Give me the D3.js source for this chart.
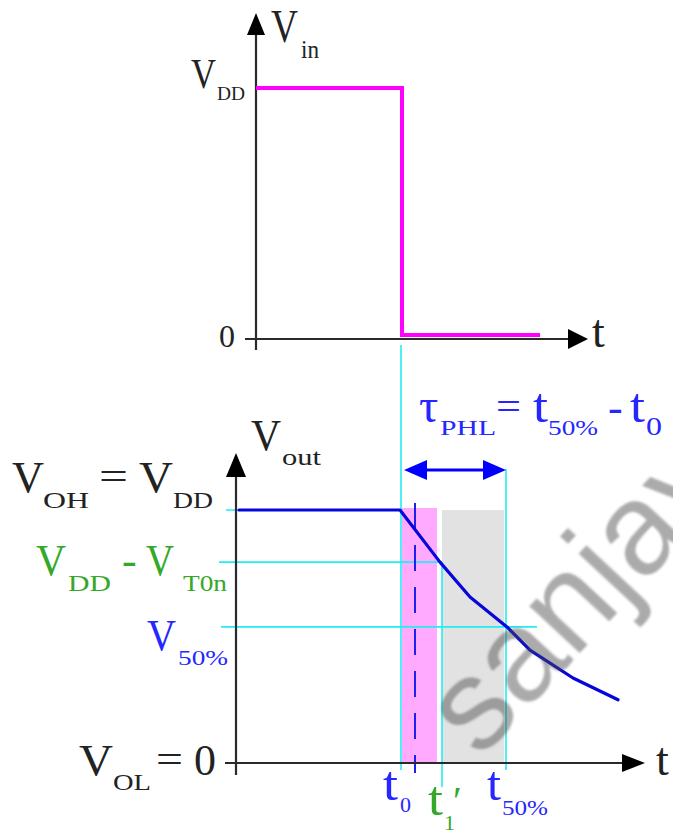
<!DOCTYPE html>
<html>
<head>
<meta charset="utf-8">
<script src="https://cdn.jsdelivr.net/npm/d3@7"></script>
<style>
  html, body { margin: 0; padding: 0; background: #fff; }
  svg { display: block; }
</style>
</head>
<body>
<svg id="chart" width="673" height="832"></svg>
<script>
// Input step Vin(t)
const vinTimes  = [0, 14.6, 14.6, 28.4];
const vinValues = [5, 5, 0, 0];

// Output response Vout(t)
const voutTimes  = [0.3, 16.4, 20.4, 23.4, 27.1, 29.4, 33.7, 38.2];
const voutValues = [5.0, 5.0, 3.97, 3.28, 2.69, 2.23, 1.68, 1.25];

// Reference levels on the Vout axis: VOH = VDD, VDD - VT0n, V50%
const levelValues = [5.0, 3.97, 2.69];

// Time markers: t0, t1', t50%
const markerTimes = [16.5, 20.6, 27.0];

// Shaded intervals and the dashed instant
const pinkInterval = [16.6, 20.1];
const grayInterval = [20.6, 26.8];
const dashedTime = 17.9;

const svg = d3.select("#chart");
const SERIF = "'Liberation Serif', 'Times New Roman', serif";

// Scales
const xTop = d3.scaleLinear().domain([0, 33.2]).range([256, 588]);
const yTop = d3.scaleLinear().domain([0, 5]).range([335, 88]);
const xBot = d3.scaleLinear().domain([0, 40.9]).range([236, 645]);
const yBot = d3.scaleLinear().domain([0, 5]).range([763, 510]);

const line = (xs, ys) => d3.line().x(d => xs(d[0])).y(d => ys(d[1]));

// Watermark blur
const defs = svg.append("defs");
defs.append("filter").attr("id", "soft")
  .append("feGaussianBlur").attr("stdDeviation", 1.2);

// ---------- helpers ----------
function arrowHead(g, tipX, tipY, dir, len, half, color) {
  let pts;
  if (dir === "up")    pts = [[tipX, tipY], [tipX - half, tipY + len], [tipX + half, tipY + len]];
  if (dir === "right") pts = [[tipX, tipY], [tipX - len, tipY - half], [tipX - len, tipY + half]];
  if (dir === "left")  pts = [[tipX, tipY], [tipX + len, tipY - half], [tipX + len, tipY + half]];
  g.append("path").attr("d", "M" + pts.join("L") + "Z").attr("fill", color);
}

// one run of text: [string, x, baseline, font size, colour, width]
function piece(p) {
  const [str, x, y, size, color, width] = p;
  const t = svg.append("text")
    .attr("x", x).attr("y", y)
    .attr("font-size", size)
    .attr("fill", color)
    .style("font-family", SERIF)
    .text(str);
  if (width) t.attr("textLength", width).attr("lengthAdjust", "spacingAndGlyphs");
}

// ---------- top chart: Vin ----------
const gTop = svg.append("g");
const axisColor = "#2a2a2a";

gTop.append("line")
  .attr("x1", xTop(0)).attr("x2", xTop(0))
  .attr("y1", yTop(0) + 15).attr("y2", 30)
  .attr("stroke", axisColor).attr("stroke-width", 2.2);
arrowHead(gTop, xTop(0), 13, "up", 22, 9, "#000");
gTop.append("line")
  .attr("x1", xTop(0) - 11).attr("x2", 572)
  .attr("y1", yTop(0) + 4).attr("y2", yTop(0) + 4)
  .attr("stroke", axisColor).attr("stroke-width", 2.2);
arrowHead(gTop, 588, yTop(0) + 4, "right", 20, 10, "#000");

gTop.append("path")
  .datum(vinTimes.map((t, i) => [t, vinValues[i]]))
  .attr("d", line(xTop, yTop))
  .attr("fill", "none")
  .attr("stroke", "#ff00ff")
  .attr("stroke-width", 4)
  .attr("stroke-linejoin", "miter");

// ---------- bottom chart: Vout ----------
const gBot = svg.append("g");

gBot.append("rect")
  .attr("x", xBot(pinkInterval[0])).attr("y", yBot(5) - 2)
  .attr("width", xBot(pinkInterval[1]) - xBot(pinkInterval[0]))
  .attr("height", yBot(0) - yBot(5) + 2)
  .attr("fill", "#ffaaff");
gBot.append("rect")
  .attr("x", xBot(grayInterval[0])).attr("y", yBot(5))
  .attr("width", xBot(grayInterval[1]) - xBot(grayInterval[0]))
  .attr("height", yBot(0) - yBot(5))
  .attr("fill", "#e2e2e2");

// watermark
svg.append("text")
  .attr("transform", "translate(480,760) rotate(-47)")
  .attr("font-family", "'Liberation Sans', Arial, sans-serif")
  .attr("font-size", 130)
  .attr("fill", "#444")
  .attr("fill-opacity", 0.45)
  .attr("filter", "url(#soft)")
  .text("sanjay");

const cyan = "#22ecf4";

const levelStarts = [226, 219, 221];
const levelEnds = [xBot(markerTimes[0]), xBot(markerTimes[1]), 537];
levelValues.forEach((v, i) => {
  gBot.append("line")
    .attr("x1", levelStarts[i]).attr("x2", levelEnds[i])
    .attr("y1", yBot(v)).attr("y2", yBot(v))
    .attr("stroke", cyan).attr("stroke-width", 1.6);
});

const markerTops = [345, yBot(levelValues[1]), 469];
const markerBottoms = [770, 787, 770];
markerTimes.forEach((t, i) => {
  gBot.append("line")
    .attr("x1", xBot(t)).attr("x2", xBot(t))
    .attr("y1", markerTops[i]).attr("y2", markerBottoms[i])
    .attr("stroke", cyan).attr("stroke-width", 1.6);
});

gBot.append("line")
  .attr("x1", xBot(dashedTime)).attr("x2", xBot(dashedTime))
  .attr("y1", 503).attr("y2", 773)
  .attr("stroke", "#2020ee").attr("stroke-width", 2)
  .attr("stroke-dasharray", "26,16");

gBot.append("line")
  .attr("x1", xBot(0)).attr("x2", xBot(0))
  .attr("y1", yBot(0) + 12).attr("y2", 470)
  .attr("stroke", axisColor).attr("stroke-width", 2.2);
arrowHead(gBot, xBot(0), 453, "up", 24, 10, "#000");
gBot.append("line")
  .attr("x1", xBot(0) - 11).attr("x2", 626)
  .attr("y1", yBot(0)).attr("y2", yBot(0))
  .attr("stroke", axisColor).attr("stroke-width", 2.2);
arrowHead(gBot, 645, yBot(0), "right", 23, 9, "#000");

gBot.append("path")
  .datum(voutTimes.map((t, i) => [t, voutValues[i]]))
  .attr("d", line(xBot, yBot))
  .attr("fill", "none")
  .attr("stroke", "#0606dc")
  .attr("stroke-width", 3.2)
  .attr("stroke-linejoin", "round")
  .attr("stroke-linecap", "round");

// propagation delay double arrow
const arrowY = 470;
const aL = xBot(markerTimes[0]) + 3, aR = xBot(markerTimes[2]);
gBot.append("line")
  .attr("x1", aL + 15).attr("x2", aR - 15)
  .attr("y1", arrowY).attr("y2", arrowY)
  .attr("stroke", "#0000ff").attr("stroke-width", 3);
arrowHead(gBot, aL, arrowY, "left", 23, 10, "#0000ff");
arrowHead(gBot, aR, arrowY, "right", 23, 10, "#0000ff");

// ---------- labels ----------
const K = "#222";
const G = "#35a82a";
const B = "#2626ff";

[
  // top chart
  ["V", 271, 42, 46, K, 27], ["in", 301, 58, 25, K, 18],
  ["V", 191, 88, 42, K, 25], ["DD", 217, 100, 18, K, 28],
  ["0", 219, 347, 32, K],
  ["t", 592, 347, 46, K],
  // bottom chart, vertical axis
  ["V", 251, 450, 44, K, 30], ["out", 282, 465, 23, K, 39],
  ["V", 12, 492, 44, K, 32], ["OH", 43, 508, 23, K, 46],
  ["=", 99, 490, 40, K, 29],
  ["V", 139, 492, 44, K, 34], ["DD", 173, 508, 23, K, 40],
  ["V", 36, 575, 44, G, 30], ["DD", 68, 591, 23, G, 43],
  ["-", 122, 575, 44, G],
  ["V", 146, 575, 44, G, 28], ["T0n", 183, 591, 23, G, 44],
  ["V", 147, 650, 44, B, 29], ["50%", 178, 665, 22, B, 50],
  ["V", 79, 775, 44, K, 34], ["OL", 113, 790, 23, K, 38],
  ["=", 156, 773, 40, K, 27], ["0", 194, 775, 44, K],
  // bottom chart, horizontal axis
  ["t", 656, 775, 46, K],
  ["t", 383, 800, 48, B, 15], ["0", 400, 812, 22, B],
  ["t", 428, 815, 48, G, 15], ["1", 444, 830, 22, G], ["\u2032", 453, 814, 40, G],
  ["t", 487, 800, 48, B, 14], ["50%", 502, 815, 22, B, 46],
  // propagation delay
  ["\u03c4", 419, 422, 48, B], ["PHL", 440, 435, 22, B, 56],
  ["=", 496, 420, 40, B, 25],
  ["t", 533, 422, 48, B, 15], ["50%", 548, 435, 22, B, 50],
  ["-", 608, 422, 44, B],
  ["t", 630, 422, 48, B, 15], ["0", 646, 435, 25, B, 16]
].forEach(piece);
</script>
</body>
</html>
